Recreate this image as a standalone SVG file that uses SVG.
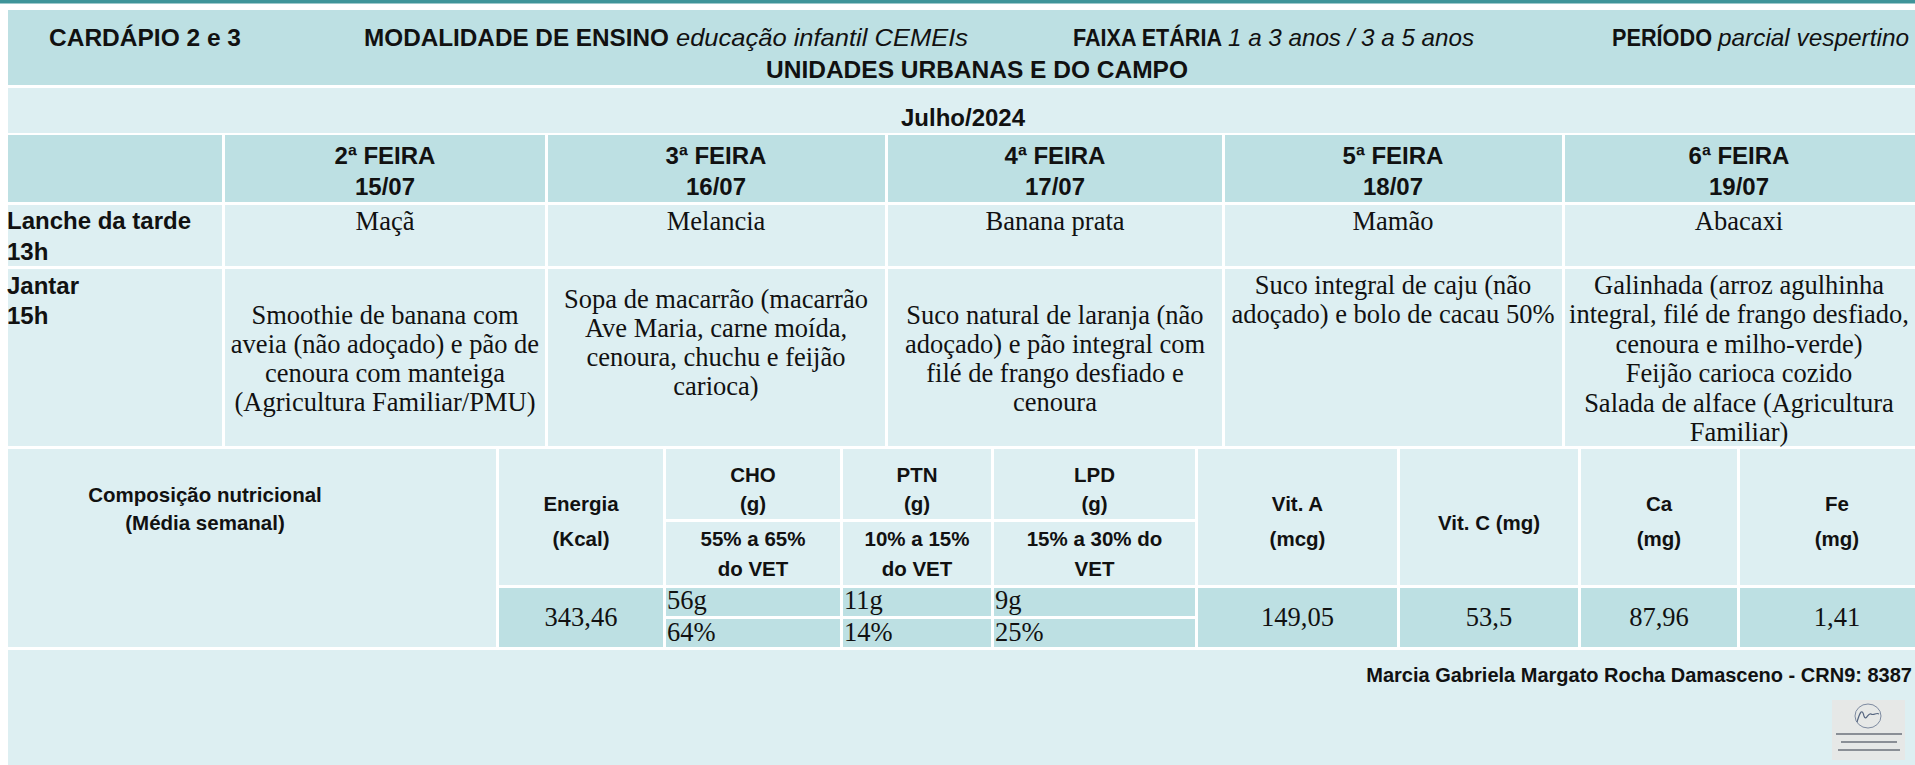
<svg xmlns="http://www.w3.org/2000/svg" width="1915" height="765" viewBox="0 0 1915 765">
<style>
.dk{fill:#bde0e3}
.lt{fill:#ddeff2}
.b{font-family:"Liberation Sans",Arial,sans-serif;font-weight:bold;fill:#111}
.i{font-family:"Liberation Sans",Arial,sans-serif;font-style:italic;fill:#111}
.s{font-family:"Liberation Serif","Times New Roman",serif;font-size:26.5px;fill:#111}
.h{font-size:24px}
.n{font-size:20.5px}
.c{text-anchor:middle}
</style>
<rect x="0" y="0" width="1915" height="765" fill="#ffffff"/>
<rect x="0" y="0" width="1915" height="3.5" fill="#3f9499"/>

<g id="header">
<rect class="dk" x="8" y="10" width="1907" height="75"/>
<text class="b h" x="49" y="46" textLength="192" lengthAdjust="spacingAndGlyphs">CARDÁPIO 2 e 3</text>
<text class="b h" x="364" y="46" textLength="305" lengthAdjust="spacingAndGlyphs">MODALIDADE DE ENSINO</text>
<text class="i h" x="676" y="46" textLength="292" lengthAdjust="spacingAndGlyphs">educação infantil CEMEIs</text>
<text class="b h" x="1073" y="46" textLength="149" lengthAdjust="spacingAndGlyphs">FAIXA ETÁRIA</text>
<text class="i h" x="1228" y="46" textLength="246" lengthAdjust="spacingAndGlyphs">1 a 3 anos / 3 a 5 anos</text>
<text class="b h" x="1612" y="46" textLength="100" lengthAdjust="spacingAndGlyphs">PERÍODO</text>
<text class="i h" x="1718" y="46" textLength="191" lengthAdjust="spacingAndGlyphs">parcial vespertino</text>
<text class="b c" x="977" y="78" font-size="24.5">UNIDADES URBANAS E DO CAMPO</text>
</g>

<g id="month">
<rect class="lt" x="8" y="88" width="1907" height="45"/>
<text class="b h c" x="963" y="126">Julho/2024</text>
</g>

<g id="day-header">
<rect class="dk" x="8" y="135" width="214" height="67"/>
<rect class="dk" x="225" y="135" width="320" height="67"/>
<rect class="dk" x="548" y="135" width="337" height="67"/>
<rect class="dk" x="888" y="135" width="334" height="67"/>
<rect class="dk" x="1225" y="135" width="337" height="67"/>
<rect class="dk" x="1565" y="135" width="350" height="67"/>
<text class="b h c" x="385" y="164">2ª FEIRA</text>
<text class="b h c" x="385" y="195">15/07</text>
<text class="b h c" x="716" y="164">3ª FEIRA</text>
<text class="b h c" x="716" y="195">16/07</text>
<text class="b h c" x="1055" y="164">4ª FEIRA</text>
<text class="b h c" x="1055" y="195">17/07</text>
<text class="b h c" x="1393" y="164">5ª FEIRA</text>
<text class="b h c" x="1393" y="195">18/07</text>
<text class="b h c" x="1739" y="164">6ª FEIRA</text>
<text class="b h c" x="1739" y="195">19/07</text>
</g>

<g id="lanche">
<rect class="lt" x="8" y="205" width="214" height="61"/>
<rect class="lt" x="225" y="205" width="320" height="61"/>
<rect class="lt" x="548" y="205" width="337" height="61"/>
<rect class="lt" x="888" y="205" width="334" height="61"/>
<rect class="lt" x="1225" y="205" width="337" height="61"/>
<rect class="lt" x="1565" y="205" width="350" height="61"/>
<text class="b h" x="7" y="229">Lanche da tarde</text>
<text class="b h" x="7" y="260">13h</text>
<text class="s c" x="385" y="230">Maçã</text>
<text class="s c" x="716" y="230">Melancia</text>
<text class="s c" x="1055" y="230">Banana prata</text>
<text class="s c" x="1393" y="230">Mamão</text>
<text class="s c" x="1739" y="230">Abacaxi</text>
</g>

<g id="jantar">
<rect class="lt" x="8" y="269" width="214" height="177"/>
<rect class="lt" x="225" y="269" width="320" height="177"/>
<rect class="lt" x="548" y="269" width="337" height="177"/>
<rect class="lt" x="888" y="269" width="334" height="177"/>
<rect class="lt" x="1225" y="269" width="337" height="177"/>
<rect class="lt" x="1565" y="269" width="350" height="177"/>
<text class="b h" x="7" y="294">Jantar</text>
<text class="b h" x="7" y="324">15h</text>
<text class="s c" x="385" y="324">Smoothie de banana com</text>
<text class="s c" x="385" y="353">aveia (não adoçado) e pão de</text>
<text class="s c" x="385" y="382">cenoura com manteiga</text>
<text class="s c" x="385" y="411">(Agricultura Familiar/PMU)</text>
<text class="s c" x="716" y="308">Sopa de macarrão (macarrão</text>
<text class="s c" x="716" y="337">Ave Maria, carne moída,</text>
<text class="s c" x="716" y="366">cenoura, chuchu e feijão</text>
<text class="s c" x="716" y="395">carioca)</text>
<text class="s c" x="1055" y="324">Suco natural de laranja (não</text>
<text class="s c" x="1055" y="353">adoçado) e pão integral com</text>
<text class="s c" x="1055" y="382">filé de frango desfiado e</text>
<text class="s c" x="1055" y="411">cenoura</text>
<text class="s c" x="1393" y="294">Suco integral de caju (não</text>
<text class="s c" x="1393" y="323">adoçado) e bolo de cacau 50%</text>
<text class="s c" x="1739" y="294">Galinhada (arroz agulhinha</text>
<text class="s c" x="1739" y="323">integral, filé de frango desfiado,</text>
<text class="s c" x="1739" y="353">cenoura e milho-verde)</text>
<text class="s c" x="1739" y="382">Feijão carioca cozido</text>
<text class="s c" x="1739" y="412">Salada de alface (Agricultura</text>
<text class="s c" x="1739" y="441">Familiar)</text>
</g>

<g id="nutrition">
<rect class="lt" x="8" y="449" width="488" height="198"/>
<rect class="lt" x="499" y="449" width="164" height="136"/>
<rect class="dk" x="499" y="588" width="164" height="59"/>
<rect class="lt" x="666" y="449" width="174" height="70"/>
<rect class="lt" x="666" y="522" width="174" height="63"/>
<rect class="dk" x="666" y="588" width="174" height="28"/>
<rect class="dk" x="666" y="619" width="174" height="28"/>
<rect class="lt" x="843" y="449" width="148" height="70"/>
<rect class="lt" x="843" y="522" width="148" height="63"/>
<rect class="dk" x="843" y="588" width="148" height="28"/>
<rect class="dk" x="843" y="619" width="148" height="28"/>
<rect class="lt" x="994" y="449" width="201" height="70"/>
<rect class="lt" x="994" y="522" width="201" height="63"/>
<rect class="dk" x="994" y="588" width="201" height="28"/>
<rect class="dk" x="994" y="619" width="201" height="28"/>
<rect class="lt" x="1198" y="449" width="199" height="136"/>
<rect class="dk" x="1198" y="588" width="199" height="59"/>
<rect class="lt" x="1400" y="449" width="178" height="136"/>
<rect class="dk" x="1400" y="588" width="178" height="59"/>
<rect class="lt" x="1581" y="449" width="156" height="136"/>
<rect class="dk" x="1581" y="588" width="156" height="59"/>
<rect class="lt" x="1740" y="449" width="175" height="136"/>
<rect class="dk" x="1740" y="588" width="175" height="59"/>

<text class="b n c" x="205" y="502">Composição nutricional</text>
<text class="b n c" x="205" y="530">(Média semanal)</text>
<text class="b n c" x="581" y="511">Energia</text>
<text class="b n c" x="581" y="546">(Kcal)</text>
<text class="b n c" x="753" y="482">CHO</text>
<text class="b n c" x="753" y="511">(g)</text>
<text class="b n c" x="753" y="546">55% a 65%</text>
<text class="b n c" x="753" y="576">do VET</text>
<text class="b n c" x="917" y="482">PTN</text>
<text class="b n c" x="917" y="511">(g)</text>
<text class="b n c" x="917" y="546">10% a 15%</text>
<text class="b n c" x="917" y="576">do VET</text>
<text class="b n c" x="1094.5" y="482">LPD</text>
<text class="b n c" x="1094.5" y="511">(g)</text>
<text class="b n c" x="1094.5" y="546">15% a 30% do</text>
<text class="b n c" x="1094.5" y="576">VET</text>
<text class="b n c" x="1297.5" y="511">Vit. A</text>
<text class="b n c" x="1297.5" y="546">(mcg)</text>
<text class="b n c" x="1489" y="530">Vit. C (mg)</text>
<text class="b n c" x="1659" y="511">Ca</text>
<text class="b n c" x="1659" y="546">(mg)</text>
<text class="b n c" x="1837" y="511">Fe</text>
<text class="b n c" x="1837" y="546">(mg)</text>

<text class="s c" x="581" y="626">343,46</text>
<text class="s" x="667" y="609">56g</text>
<text class="s" x="667" y="641">64%</text>
<text class="s" x="844" y="609">11g</text>
<text class="s" x="844" y="641">14%</text>
<text class="s" x="995" y="609">9g</text>
<text class="s" x="995" y="641">25%</text>
<text class="s c" x="1297.5" y="626">149,05</text>
<text class="s c" x="1489" y="626">53,5</text>
<text class="s c" x="1659" y="626">87,96</text>
<text class="s c" x="1837" y="626">1,41</text>
</g>

<g id="footer">
<rect class="lt" x="8" y="650" width="1907" height="115"/>
<text class="b" x="1912" y="682" font-size="20" text-anchor="end">Marcia Gabriela Margato Rocha Damasceno - CRN9: 8387</text>
<g id="stamp">
<rect x="1832" y="700" width="73" height="60" fill="#e6e8e7"/>
<ellipse cx="1868" cy="716" rx="13" ry="12" fill="none" stroke="#7d8aa0" stroke-width="1"/>
<path d="M1857 722 C1860 712 1862 708 1864 716 C1866 722 1868 712 1871 714 C1874 716 1876 712 1879 714" fill="none" stroke="#55657f" stroke-width="1.2"/>
<rect x="1836" y="733" width="66" height="2" fill="#8a8f96"/>
<rect x="1841" y="741" width="56" height="2" fill="#8a8f96"/>
<rect x="1838" y="749" width="62" height="2" fill="#8a8f96"/>
</g>
</g>
</svg>
